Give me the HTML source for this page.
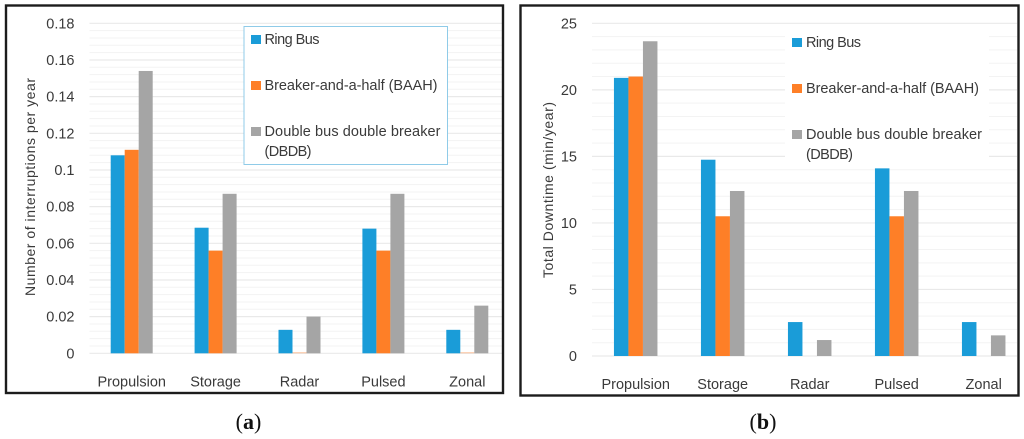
<!DOCTYPE html>
<html>
<head>
<meta charset="utf-8">
<style>
html,body{margin:0;padding:0;background:#fff;width:1024px;height:439px;overflow:hidden}
svg{display:block;filter:blur(.3px)}
text{font-family:"Liberation Sans",sans-serif;fill:#3a3a3a}
.tick{font-size:14.5px}
.cat{font-size:14.500px}
.leg{font-size:14.500px}
.title{font-size:14px}
.cap{font-family:"Liberation Serif",serif;font-size:22px;fill:#111}
</style>
</head>
<body>
<svg id="figure" width="1024" height="439" viewBox="0 0 1024 439" xmlns="http://www.w3.org/2000/svg">
  <g id="chart-a"></g>
  <g id="chart-b"></g>

  <rect x="6" y="5.5" width="497" height="387.5" fill="none" stroke="#1c1c1c" stroke-width="2.4"/>
  <rect x="520.5" y="5.5" width="498" height="390" fill="none" stroke="#1c1c1c" stroke-width="2.4"/>

  <text class="title" transform="translate(35,187) rotate(-90)" text-anchor="middle" textLength="218" lengthAdjust="spacing">Number of interruptions per year</text>
  <text class="title" transform="translate(553,190) rotate(-90)" text-anchor="middle" textLength="176" lengthAdjust="spacing">Total Downtime (min/year)</text>

  <g>
    <rect x="244" y="26.5" width="203.5" height="138" fill="#fff" stroke="#8fcbe8" stroke-width="1"/>
    <rect x="251" y="35" width="10" height="9" fill="#1a9cd8"/>
    <text class="leg" x="264.500" y="44" textLength="55" lengthAdjust="spacing">Ring Bus</text>
    <rect x="251" y="81" width="10" height="9" fill="#fe7f27"/>
    <text class="leg" x="264.500" y="90" textLength="173" lengthAdjust="spacing">Breaker-and-a-half (BAAH)</text>
    <rect x="251" y="127" width="10" height="9" fill="#a5a5a5"/>
    <text class="leg" x="264.500" y="136" textLength="176" lengthAdjust="spacing">Double bus double breaker</text>
    <text class="leg" x="264.500" y="156" textLength="47" lengthAdjust="spacing">(DBDB)</text>
  </g>

  <g>
    <rect x="785" y="24.500" width="204" height="139" fill="#fff"/>
    <rect x="792" y="38" width="10" height="9" fill="#1a9cd8"/>
    <text class="leg" x="806" y="47" textLength="55" lengthAdjust="spacing">Ring Bus</text>
    <rect x="792" y="84" width="10" height="9" fill="#fe7f27"/>
    <text class="leg" x="806" y="93" textLength="173" lengthAdjust="spacing">Breaker-and-a-half (BAAH)</text>
    <rect x="792" y="130" width="10" height="9" fill="#a5a5a5"/>
    <text class="leg" x="806" y="139" textLength="176" lengthAdjust="spacing">Double bus double breaker</text>
    <text class="leg" x="806" y="159" textLength="47" lengthAdjust="spacing">(DBDB)</text>
  </g>

  <text class="cap" x="248.500" y="429" text-anchor="middle">(<tspan font-weight="bold">a</tspan>)</text>
  <text class="cap" x="763" y="429" text-anchor="middle">(<tspan font-weight="bold">b</tspan>)</text>
</svg>
<script>
var categories = ["Propulsion", "Storage", "Radar", "Pulsed", "Zonal"];

var ringBusA = [0.108, 0.0685, 0.0128, 0.068, 0.0128];
var baahA = [0.111, 0.056, 0.0006, 0.056, 0.0006];
var dbdbA = [0.154, 0.087, 0.02, 0.087, 0.026];
var tickLabelsA = ["0", "0.02", "0.04", "0.06", "0.08", "0.1", "0.12", "0.14", "0.16", "0.18"];

var ringBusB = [20.9, 14.75, 2.55, 14.1, 2.55];
var baahB = [21.0, 10.5, 0, 10.5, 0];
var dbdbB = [23.65, 12.4, 1.2, 12.4, 1.55];
var tickLabelsB = ["0", "5", "10", "15", "20", "25"];

var SVG_NS = "http://www.w3.org/2000/svg";
var seriesColors = ["#1a9cd8", "#fe7f27", "#a5a5a5"];

function make(parent, tag, attrs) {
  var el = document.createElementNS(SVG_NS, tag);
  for (var k in attrs) el.setAttribute(k, attrs[k]);
  parent.appendChild(el);
  return el;
}

function drawChart(parent, series, tickLabels, minorPerMajor, box) {
  var yMax = parseFloat(tickLabels[tickLabels.length - 1]);
  var majorStep = parseFloat(tickLabels[1]);
  var minorStep = majorStep / minorPerMajor;
  function y(v) { return box.y0 + (box.yTop - box.y0) * (v / yMax); }
  function groupX(i) { return box.firstCenter + i * box.spacing; }

  var minorCount = Math.round(yMax / minorStep);
  for (var m = 0; m <= minorCount; m++) {
    if (m % minorPerMajor === 0) continue;
    var minor = make(parent, "line", {x1: box.left, x2: box.right, y1: y(m * minorStep), y2: y(m * minorStep), stroke: "#f3f3f3", "stroke-width": 1});
    
    
  }
  tickLabels.forEach(function (label) {
    var v = parseFloat(label);
    var major = make(parent, "line", {x1: box.left, x2: box.right, y1: y(v), y2: y(v), stroke: "#e9e9e9", "stroke-width": 1.2});
    
    
    var tick = make(parent, "text", {x: box.left - 15, y: y(v) + 5, "text-anchor": "end", "class": "tick"});
    tick.textContent = label;
    
    
  });
  categories.forEach(function (name, i) {
    series.forEach(function (values, s) {
      var top = y(values[i]);
      var opacity = values[i] / yMax < 0.01 ? 0.4 : 1;
      var bar = make(parent, "rect", {
        x: groupX(i) + (s - 1.5) * box.barWidth,
        y: top,
        width: box.barWidth,
        height: box.y0 - top,
        fill: seriesColors[s],
        opacity: opacity
      });
      
      
    });
    var cat = make(parent, "text", {x: groupX(i), y: box.y0 + 33, "text-anchor": "middle", "class": "cat"});
    cat.textContent = name;
    
    
  });
}

drawChart(document.getElementById("chart-a"), [ringBusA, baahA, dbdbA], tickLabelsA, 5,
  {left: 89.5, right: 503, yTop: 23.3, y0: 353.3, firstCenter: 131.7, spacing: 83.9, barWidth: 14});
drawChart(document.getElementById("chart-b"), [ringBusB, baahB, dbdbB], tickLabelsB, 5,
  {left: 592, right: 1017, yTop: 23.3, y0: 356, firstCenter: 635.7, spacing: 87, barWidth: 14.5});
</script>
</body>
</html>
